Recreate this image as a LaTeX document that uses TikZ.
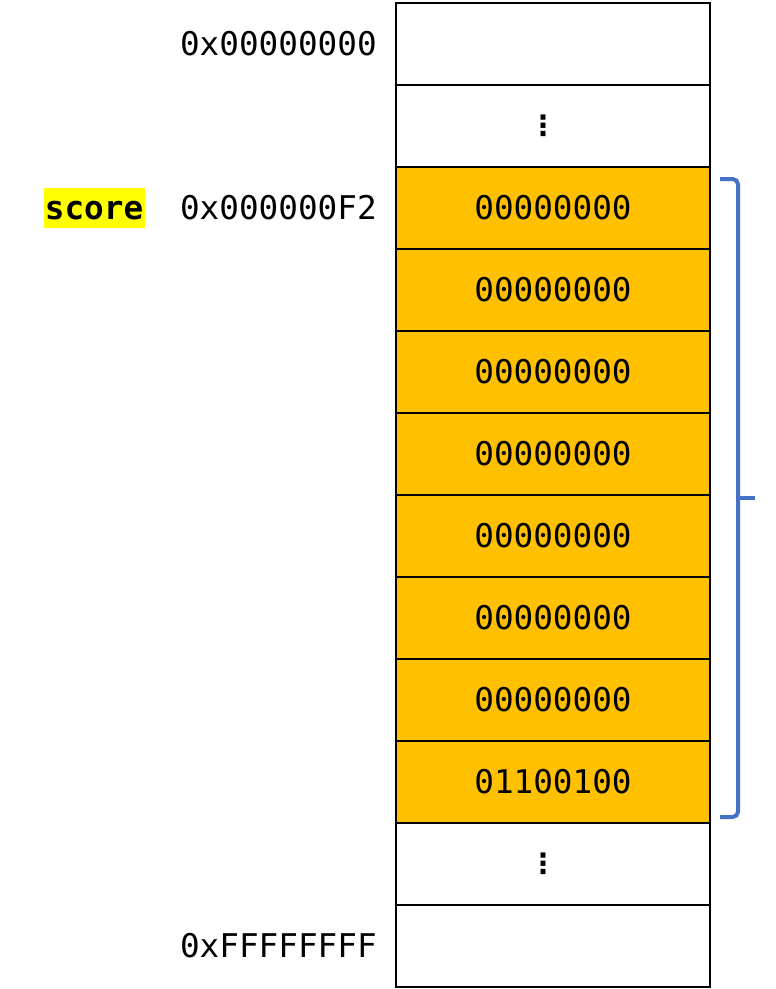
\documentclass[tikz,border=0pt]{standalone}
\usepackage{fontspec}
\setmonofont{DejaVu Sans Mono}
\newfontfamily\dotsfont{DejaVu Sans}
\usetikzlibrary{positioning, calc}
\definecolor{mybyte}{RGB}{255,192,0}
\definecolor{mybrace}{RGB}{68,114,196}
\definecolor{myhilite}{RGB}{255,255,0}
\tikzset{
  cell/.style={rectangle, draw=black, fill=white,
    minimum width=235.5pt, minimum height=61.5pt,
    inner sep=0pt, outer sep=0pt, line width=1.5pt,
    font=\ttfamily\fontsize{24.5}{28}\selectfont},
  bytecell/.style={cell, fill=mybyte},
  gapcell/.style={cell, label={[vdotsmark]center:⋮}},
  vdotsmark/.style={inner sep=0pt, xshift=-7.5pt,
    font=\dotsfont\bfseries\fontsize{21}{24}\selectfont},
  addr/.style={inner sep=0pt, font=\ttfamily\fontsize{24.5}{28}\selectfont},
  varname/.style={rectangle, fill=myhilite, inner xsep=1pt, inner ysep=0pt,
    text height=24pt, text depth=6pt,
    font=\ttfamily\bfseries\fontsize{24.5}{28}\selectfont},
  brace/.style={line width=3pt, color=mybrace, rounded corners=4pt}
}
\begin{document}
\begin{tikzpicture}[node distance=0pt]
  \useasboundingbox (0,0) rectangle (581.25pt,-741.75pt);
  % memory column
  \node[cell, anchor=north west] (top) at (297pt,-2.25pt) {};
  \node[gapcell, below=of top] (gap1) {};
  \node[bytecell, below=of gap1] (b1) {00000000};
  \node[bytecell, below=of b1] (b2) {00000000};
  \node[bytecell, below=of b2] (b3) {00000000};
  \node[bytecell, below=of b3] (b4) {00000000};
  \node[bytecell, below=of b4] (b5) {00000000};
  \node[bytecell, below=of b5] (b6) {00000000};
  \node[bytecell, below=of b6] (b7) {00000000};
  \node[bytecell, below=of b7] (b8) {01100100};
  \node[gapcell, below=of b8] (gap2) {};
  \node[cell, below=of gap2] (bot) {};
  % addresses
  \node[addr, left=14.25pt of top.west] (atop) {0x00000000};
  \node[addr, left=14.25pt of b1.west] (ab1) {0x000000F2};
  \node[addr, left=14.25pt of bot.west] (abot) {0xFFFFFFFF};
  \node[varname, left=26.25pt of ab1.base west, anchor=base east] (score) {score};
  % brace over the eight bytes
  \coordinate (bt) at ([xshift=7.5pt, yshift=-9pt]b1.north east);
  \coordinate (bb) at ([xshift=7.5pt, yshift=4.5pt]b8.south east);
  \draw[brace] (bt) -| ($(bb)+(13.5pt,0)$) -- (bb);
  \draw[brace] ($(bt)!0.5!(bb)+(13.5pt,0)$) -- ++(12.75pt,0);
\end{tikzpicture}
\end{document}
